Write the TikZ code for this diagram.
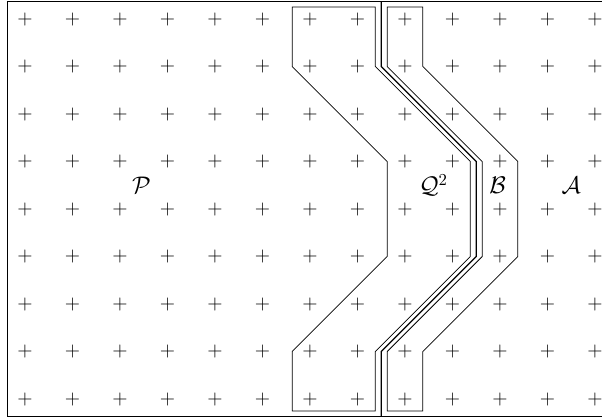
\documentclass[tikz,border=0pt]{standalone}
\usepackage{amsmath,amssymb}
\usepackage{tikz}
\usetikzlibrary{arrows.meta, positioning, calc}

\begin{document}
\begin{tikzpicture}[font=\small, >=Stealth,
    frame/.style={draw, line width=0.5pt},
    band/.style={draw, line width=0.45pt},
    divide/.style={draw, line width=0.8pt},
    cross/.style={inner sep=0pt, font=\large},
    region/.style={inner sep=0pt, font=\Large}]
    \useasboundingbox (-0.526,-0.38) rectangle (12.147,8.40);
    % frame, open to the right
    \draw[frame] (12.4,8.37) -- (-0.37,8.37) -- (-0.37,-0.36) -- (12.4,-0.36);
    % lattice points
    \foreach \i in {0,...,12}
      \foreach \j in {0,...,8}
        \node[cross] (g-\i-\j) at (\i,\j) {$+$};
    % the separating path
    \coordinate (top) at (7.5,8.37);
    \coordinate (bot) at (7.5,-0.36);
    \draw[divide] (top) -- (7.5,7) -- (9.5,5) -- (9.5,3) -- (7.5,1) -- (bot);
    % band on the left of the path
    \draw[band] (5.625,8.25) -- (7.375,8.25) -- (7.375,7) -- (9.375,5) -- (9.375,3)
      -- (7.375,1) -- (7.375,-0.25) -- (5.625,-0.25) -- (5.625,1) -- (7.625,3)
      -- (7.625,5) -- (5.625,7) -- cycle;
    % band on the right of the path
    \draw[band] (7.625,8.25) -- (8.375,8.25) -- (8.375,7) -- (10.375,5) -- (10.375,3)
      -- (8.375,1) -- (8.375,-0.25) -- (7.625,-0.25) -- (7.625,1) -- (9.625,3)
      -- (9.625,5) -- (7.625,7) -- cycle;
    % regions
    \node[region] (P) at (2.45,4.5) {$\mathcal{P}$};
    \node[region] (Q) at (8.6,4.5) {$\mathcal{Q}^2$};
    \node[region] (B) at (9.95,4.5) {$\mathcal{B}$};
    \node[region] (A) at (11.5,4.5) {$\mathcal{A}$};
\end{tikzpicture}
\end{document}
